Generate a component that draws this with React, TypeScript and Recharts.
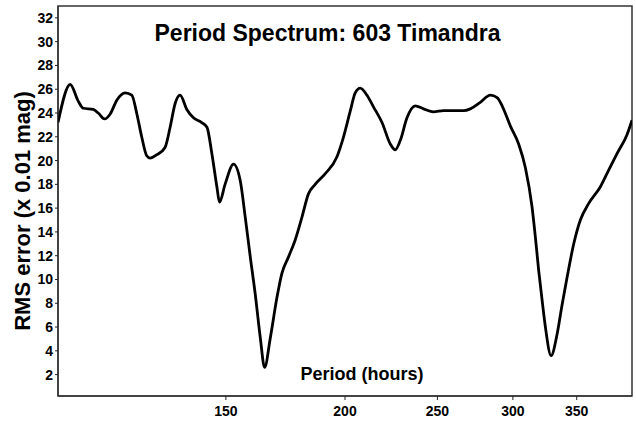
import React from 'react';
import { LineChart, Line, XAxis, YAxis, ReferenceArea } from 'recharts';

// period (hours) and RMS error (x 0.01 mag)
const periods = [
  100, 103.0, 105.0, 106.3, 108.9, 110.2, 111.9, 113.4, 115.3, 117.6, 119.5, 121.0,
  122.4, 123.9, 124.9, 127.0, 129.5, 131.1, 132.7, 134.3, 136.5, 138.7, 141.5, 143.3,
  145.0, 146.8, 147.7, 149.7, 152.8, 155.3, 157.2, 159.1, 161.0, 163.0, 164.7, 167.0,
  169.7, 171.7, 174.5, 177.3, 180.2, 183.1, 186.1, 190.7, 196.1, 199.3, 202.6, 205.0,
  207.5, 210.9, 214.3, 218.7, 223.1, 225.8, 228.6, 232.3, 237.0, 241.8, 247.7, 253.8,
  260.0, 266.4, 270.7, 277.3, 284.1, 288.8, 292.3, 298.2, 304.2, 309.2, 314.2, 316.8,
  319.3, 322.0, 324.5, 329.0, 333.8, 337.9, 342.0, 347.5, 353.1, 360.3, 370.6, 378.1,
  385.9, 395.3, 400,
];
const rmsError = [
  23.2, 26.4, 25.0, 24.4, 24.3, 24.0, 23.5, 23.9, 25.1, 25.7, 25.5, 23.9,
  22.0, 20.4, 20.2, 20.5, 21.1, 22.8, 24.8, 25.5, 24.3, 23.6, 23.2, 22.8,
  20.6, 17.75, 16.5, 18.0, 19.7, 18.3, 15.2, 11.9, 8.8, 5.1, 2.6, 5.1,
  8.5, 10.5, 11.9, 13.3, 15.2, 17.2, 18.0, 18.9, 20.3, 22.0, 24.2, 25.7,
  26.1, 25.5, 24.5, 23.2, 21.4, 20.9, 21.7, 23.6, 24.6, 24.35, 24.1, 24.2,
  24.2, 24.2, 24.35, 24.9, 25.5, 25.3, 24.6, 22.9, 21.4, 19.4, 16.1, 13.5,
  10.75, 8.2, 6.0, 3.6, 5.4, 7.9, 10.2, 13.0, 15.0, 16.4, 17.8, 19.2,
  20.6, 22.2, 23.4,
];
const xTicks = [150, 200, 250, 300, 350];
const yTicks = [2, 4, 6, 8, 10, 12, 14, 16, 18, 20, 22, 24, 26, 28, 30, 32];

const data = periods.map((p, i) => ({ period: p, rms: rmsError[i] }));

const FONT = "Arial, 'Liberation Sans', sans-serif";
const tickStyle = { fill: '#000', fontSize: 14, fontWeight: 'bold', fontFamily: FONT };

export default function App() {
  return (
    <div style={{ position: 'absolute', left: 0, top: 0, width: 636, height: 422, background: '#fff' }}>
      <LineChart width={636} height={422} data={data} margin={{ top: 6, right: 4, bottom: 0, left: 0 }}>
        <XAxis
          dataKey="period"
          type="number"
          scale="log"
          domain={[100, 400]}
          ticks={xTicks}
          allowDataOverflow
          height={26}
          tickSize={4}
          tickMargin={6}
          tick={tickStyle}
          stroke="#222"
        />
        <YAxis
          type="number"
          domain={[0.2, 33]}
          ticks={yTicks}
          allowDataOverflow
          width={58}
          tickSize={3}
          tick={tickStyle}
          stroke="#222"
        />
        <ReferenceArea x1={100} x2={400} y1={0.2} y2={33} fill="none" stroke="#333" strokeWidth={1.5} />
        <Line
          type="monotone"
          dataKey="rms"
          stroke="#000"
          strokeWidth={2.8}
          dot={false}
          isAnimationActive={false}
        />
      </LineChart>
      <svg width={636} height={422} style={{ position: 'absolute', left: 0, top: 0, pointerEvents: 'none' }}>
        <text x={327.5} y={41} textAnchor="middle" fontFamily={FONT} fontWeight="bold" fontSize={23} fill="#000">
          Period Spectrum: 603 Timandra
        </text>
        <text x={362} y={380} textAnchor="middle" fontFamily={FONT} fontWeight="bold" fontSize={18} fill="#000">
          Period (hours)
        </text>
        <text
          x={0}
          y={0}
          transform="translate(30 211) rotate(-90)"
          textAnchor="middle"
          fontFamily={FONT}
          fontWeight="bold"
          fontSize={22}
          fill="#000"
        >
          RMS error (x 0.01 mag)
        </text>
      </svg>
    </div>
  );
}
